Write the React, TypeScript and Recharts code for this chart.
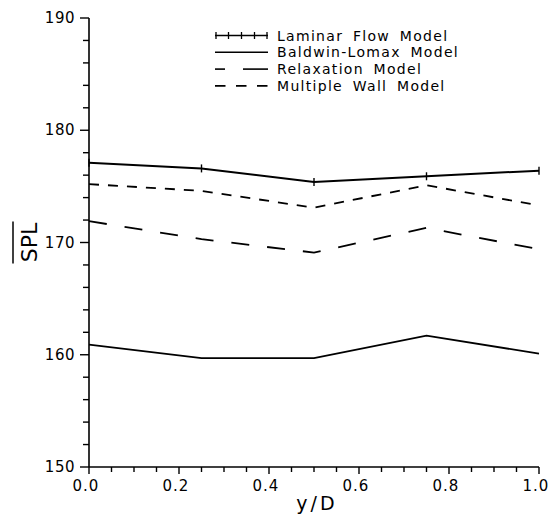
import React from 'react';
import { LineChart, Line, XAxis, YAxis, Legend } from 'recharts';

const X_VALUES = [0, 0.25, 0.5, 0.75, 1.0];
const LAMINAR = [177.1, 176.6, 175.4, 175.9, 176.4];
const BALDWIN = [160.9, 159.7, 159.7, 161.7, 160.1];
const RELAXATION = [171.9, 170.3, 169.1, 171.3, 169.4];
const MULTIWALL = [175.2, 174.6, 173.1, 175.1, 173.3];

const X_TICKS = [0, 0.05, 0.1, 0.15, 0.2, 0.25, 0.3, 0.35, 0.4, 0.45, 0.5, 0.55, 0.6, 0.65, 0.7, 0.75, 0.8, 0.85, 0.9, 0.95, 1.0];
const Y_TICKS = [150, 152, 154, 156, 158, 160, 162, 164, 166, 168, 170, 172, 174, 176, 178, 180, 182, 184, 186, 188, 190];

const SERIES_NAMES = ['Laminar Flow Model', 'Baldwin-Lomax Model', 'Relaxation Model', 'Multiple Wall Model'];

const data = X_VALUES.map((x, i) => ({
  x,
  laminar: LAMINAR[i],
  baldwin: BALDWIN[i],
  relaxation: RELAXATION[i],
  multiwall: MULTIWALL[i],
}));

const FONT = '"DejaVu Sans", sans-serif';

const XTick = (props: any) => {
  const { x, y, payload } = props;
  const v = payload.value;
  const major = Math.round(v * 100) % 20 === 0;
  return (
    <g>
      <line x1={x} x2={x} y1={y} y2={y + (major ? 7 : 5)} stroke="#000" strokeWidth={1.4} />
      {major && (
        <text x={x - 3} y={y + 24} textAnchor="middle" fontFamily={FONT} fontSize={15} letterSpacing={1} fill="#000">
          {v.toFixed(1)}
        </text>
      )}
    </g>
  );
};

const YTick = (props: any) => {
  const { x, y, payload } = props;
  const v = payload.value;
  const major = v % 10 === 0;
  return (
    <g>
      <line x1={x} x2={x - (major ? 9 : 6)} y1={y} y2={y} stroke="#000" strokeWidth={1.4} />
      {major && (
        <text x={x - 14} y={y + 5} textAnchor="end" fontFamily={FONT} fontSize={15} letterSpacing={0.5} fill="#000">
          {v}
        </text>
      )}
    </g>
  );
};

const LaminarDot = (p: any) => {
  if (p.cx == null || p.cy == null) return <g key={p.index} />;
  return <line key={p.index} x1={p.cx} x2={p.cx} y1={p.cy - 4} y2={p.cy + 4} stroke="#000" strokeWidth={1.4} />;
};

const YLabel = (props: any) => {
  const vb = props.viewBox || {};
  const cx = 37;
  const cy = vb.y + vb.height / 2;
  return (
    <g transform={`rotate(-90 ${cx} ${cy})`}>
      <text x={cx} y={cy} textAnchor="middle" fontFamily={FONT} fontSize={22} fill="#000">SPL</text>
      <line x1={cx - 21} x2={cx + 21} y1={cy - 24} y2={cy - 24} stroke="#000" strokeWidth={1.5} />
    </g>
  );
};

const XLabel = (props: any) => {
  const vb = props.viewBox || {};
  const cx = vb.x + vb.width / 2;
  return (
    <text x={cx + 3} y={vb.y + 43} textAnchor="middle" fontFamily={FONT} fontSize={19} letterSpacing={3} fill="#000">y/D</text>
  );
};

const LegendBox = () => {
  const rowY = (i: number) => 8.5 + i * 16.8;
  const textX = 62;
  return (
    <svg width={270} height={72} style={{ display: 'block', overflow: 'visible' }}>
      <line x1={0} x2={53} y1={rowY(0)} y2={rowY(0)} stroke="#000" strokeWidth={1.6} />
      {[1, 13.5, 26.5, 39.5, 52].map((px, k) => (
        <line key={k} x1={px} x2={px} y1={rowY(0) - 3.5} y2={rowY(0) + 3.5} stroke="#000" strokeWidth={1.3} />
      ))}
      <line x1={0} x2={53} y1={rowY(1)} y2={rowY(1)} stroke="#000" strokeWidth={1.6} />
      <line x1={0} x2={10} y1={rowY(2)} y2={rowY(2)} stroke="#000" strokeWidth={1.6} />
      <line x1={28} x2={53} y1={rowY(2)} y2={rowY(2)} stroke="#000" strokeWidth={1.6} />
      <line x1={0} x2={53} y1={rowY(3)} y2={rowY(3)} stroke="#000" strokeWidth={1.6} strokeDasharray="10.5 10.5" />
      {SERIES_NAMES.map((name, i) => (
        <text key={name} x={textX} y={rowY(i) + 5} fontFamily={FONT} fontSize={14} letterSpacing={1.3} wordSpacing={4} fill="#000">
          {name}
        </text>
      ))}
    </svg>
  );
};

export default function App() {
  return (
    <>
      <style>{'html, body { margin: 0 !important; padding: 0; overflow: hidden; }'}</style>
      <LineChart width={549} height={518} data={data} margin={{ top: 18, right: 10, left: 0, bottom: 0 }}>
        <XAxis
          dataKey="x"
          type="number"
          domain={[0, 1]}
          ticks={X_TICKS}
          interval={0}
          tickSize={0}
          tickMargin={0}
          tick={XTick}
          height={51}
          axisLine={{ stroke: '#000', strokeWidth: 1.6 }}
          label={{ content: XLabel }}
        />
        <YAxis
          type="number"
          domain={[150, 190]}
          ticks={Y_TICKS}
          interval={0}
          tickSize={0}
          tickMargin={0}
          tick={YTick}
          width={89}
          axisLine={{ stroke: '#000', strokeWidth: 1.6 }}
          label={{ content: YLabel }}
        />
        <Legend
          layout="vertical"
          verticalAlign="middle"
          align="center"
          content={() => <LegendBox />}
          wrapperStyle={{ left: 215, top: 27, width: 270, height: 72 }}
        />
        <Line dataKey="laminar" name={SERIES_NAMES[0]} stroke="#000" strokeWidth={2} dot={LaminarDot} activeDot={false} isAnimationActive={false} />
        <Line dataKey="baldwin" name={SERIES_NAMES[1]} stroke="#000" strokeWidth={1.8} dot={false} activeDot={false} isAnimationActive={false} />
        <Line dataKey="relaxation" name={SERIES_NAMES[2]} stroke="#000" strokeWidth={1.8} strokeDasharray="18 18" dot={false} activeDot={false} isAnimationActive={false} />
        <Line dataKey="multiwall" name={SERIES_NAMES[3]} stroke="#000" strokeWidth={1.8} strokeDasharray="10 9" dot={false} activeDot={false} isAnimationActive={false} />
      </LineChart>
    </>
  );
}
